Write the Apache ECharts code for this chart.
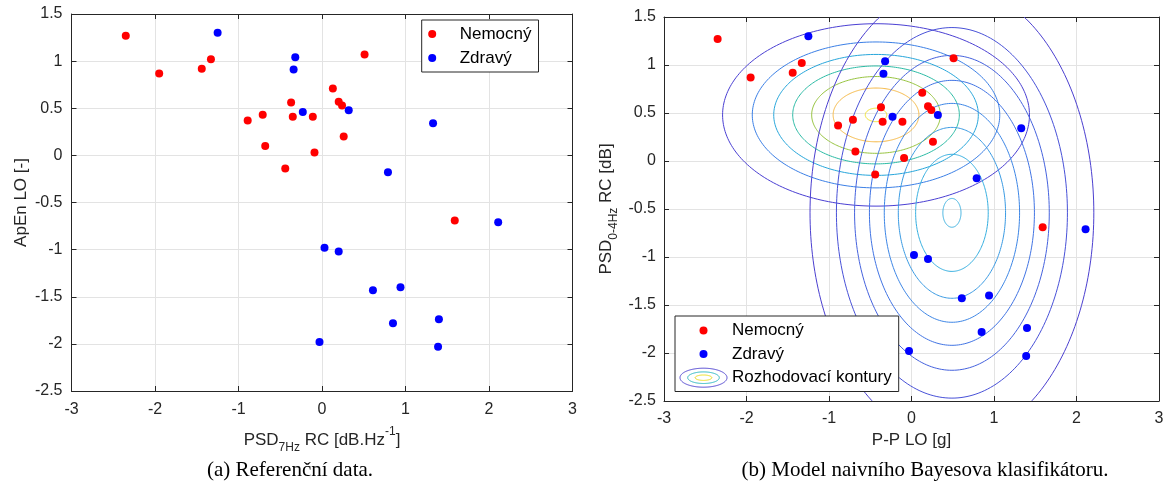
<!DOCTYPE html>
<html>
<head>
<meta charset="utf-8">
<script src="https://cdn.jsdelivr.net/npm/echarts@6/dist/echarts.min.js"></script>
<style>
  html, body { margin: 0; padding: 0; background: #fff; }
  #chart { width: 1169px; height: 496px; }
</style>
</head>
<body>
<div id="chart"></div>
<script>
// --- data ---
const nemocnyX = [-2.35, -1.95, -1.44, -1.33, -0.89, -0.71, -0.68, -0.44, -0.37, -0.35, -0.11, -0.09, 0.13, 0.20, 0.24, 0.26, 0.51, 1.59]
const nemocnyY = [1.27, 0.87, 0.92, 1.02, 0.37, 0.43, 0.10, -0.14, 0.56, 0.41, 0.41, 0.03, 0.71, 0.57, 0.53, 0.20, 1.07, -0.69]
const zdravyX = [-1.25, -0.32, -0.34, -0.23, 0.32, 1.33, 0.79, 0.03, 0.20, -0.03, 2.11, 0.61, 0.94, 0.85, 1.40, 1.39]
const zdravyY = [1.30, 1.04, 0.91, 0.46, 0.48, 0.34, -0.18, -0.98, -1.02, -1.98, -0.71, -1.43, -1.40, -1.78, -1.74, -2.03]

// contour ellipses (centre + semi-axes per level, outer -> inner)
const nemocnyCenter = [-0.43, 0.48]
const nemocnyRx = [1.86, 1.50, 1.24, 1.01, 0.78, 0.52, 0.13]
const nemocnyRy = [0.95, 0.76, 0.63, 0.51, 0.40, 0.28, 0.07]
const nemocnyColors = ['#4a3fd3', '#3b7fe6', '#27a6db', '#2bbba5', '#97c43f', '#f6b843', '#f2e21e']

const zdravyCenter = [0.49, -0.54]
const zdravyRx = [1.72, 1.40, 1.18, 1.00, 0.82, 0.65, 0.44, 0.11]
const zdravyRy = [2.37, 1.93, 1.64, 1.38, 1.14, 0.89, 0.61, 0.15]
const zdravyColors = ['#4b3fd0', '#4851d8', '#4562de', '#4174e4', '#3d86e6', '#399ae3', '#33aee0', '#33aee0']

const xTicks = [-3, 3, 1]   // min, max, interval
const yTicks = [-2.5, 1.5, 0.5]

const FONT = 'Liberation Sans'
const TXT = '#262626'

const nemocnyPts = nemocnyX.map((x, i) => [x, nemocnyY[i]])
const zdravyPts = zdravyX.map((x, i) => [x, zdravyY[i]])

function contourRows(c, rx, ry) {
  return rx.map((r, i) => [c[0], c[1], r, ry[i]])
}

function ellipsePoints(cx, cy, rx, ry) {
  const pts = []
  for (let i = 0; i <= 240; i++) {
    const t = (i / 240) * Math.PI * 2
    pts.push([cx + rx * Math.cos(t), cy + ry * Math.sin(t)])
  }
  return pts
}

function ellipseItem(colors) {
  return function (params, api) {
    const c = api.coord([api.value(0), api.value(1)])
    const s = api.size([api.value(2), api.value(3)])
    return {
      type: 'polyline',
      shape: { points: ellipsePoints(c[0], c[1], s[0], s[1]) },
      style: { stroke: colors[params.dataIndex], fill: 'none', lineWidth: 1 }
    }
  }
}

function xAxisBase(gridIndex, pos) {
  return {
    gridIndex: gridIndex,
    type: 'value',
    position: pos,
    min: xTicks[0], max: xTicks[1], interval: xTicks[2],
    axisLine: { show: true, onZero: false, lineStyle: { color: TXT, width: 1 } },
    axisTick: { show: true, inside: true, length: 5, lineStyle: { color: TXT } },
    axisLabel: { show: false },
    splitLine: { show: false }
  }
}
function yAxisBase(gridIndex, pos) {
  return {
    gridIndex: gridIndex,
    type: 'value',
    position: pos,
    min: yTicks[0], max: yTicks[1], interval: yTicks[2],
    axisLine: { show: true, onZero: false, lineStyle: { color: TXT, width: 1 } },
    axisTick: { show: true, inside: true, length: 5, lineStyle: { color: TXT } },
    axisLabel: { show: false },
    splitLine: { show: false }
  }
}

const labelStyle = { show: true, color: TXT, fontSize: 16, fontFamily: FONT }
const gridLine = { show: true, lineStyle: { color: '#e3e3e3', width: 1 } }
const richName = {
  n: { fontSize: 17, fontFamily: FONT, color: TXT, lineHeight: 28 },
  s: { fontSize: 12, fontFamily: FONT, color: TXT, lineHeight: 14, verticalAlign: 'bottom' },
  p: { fontSize: 12, fontFamily: FONT, color: TXT, lineHeight: 14, verticalAlign: 'top' }
}
const dot = (color) => ({ color: color, opacity: 1 })

const chart = echarts.init(document.getElementById('chart'))

const option = {
  backgroundColor: '#fff',
  animation: false,
  grid: [
    { left: 71.5, top: 14, width: 501, height: 377 },
    { left: 664, top: 17, width: 495, height: 384 }
  ],
  xAxis: [
    Object.assign(xAxisBase(0, 'bottom'), {
      axisLabel: Object.assign({ margin: 11 }, labelStyle),
      splitLine: gridLine,
      name: '{n|PSD}{s|7Hz}{n| RC [dB.Hz}{p|-1}{n|]}',
      nameLocation: 'middle',
      nameGap: 35,
      nameTextStyle: { rich: richName }
    }),
    xAxisBase(0, 'top'),
    Object.assign(xAxisBase(1, 'bottom'), {
      axisLabel: Object.assign({ margin: 10 }, labelStyle),
      splitLine: gridLine,
      name: 'P-P LO [g]',
      nameLocation: 'middle',
      nameGap: 29,
      nameTextStyle: { color: TXT, fontSize: 17, fontFamily: FONT }
    }),
    xAxisBase(1, 'top')
  ],
  yAxis: [
    Object.assign(yAxisBase(0, 'left'), {
      axisLabel: Object.assign({ margin: 9 }, labelStyle),
      splitLine: gridLine,
      name: 'ApEn LO [-]',
      nameLocation: 'middle',
      nameGap: 42,
      nameTextStyle: { color: TXT, fontSize: 17, fontFamily: FONT }
    }),
    yAxisBase(0, 'right'),
    Object.assign(yAxisBase(1, 'left'), {
      axisLabel: Object.assign({ margin: 8 }, labelStyle),
      splitLine: gridLine,
      name: '{n|PSD}{s|0-4Hz}{n| RC [dB]}',
      nameLocation: 'middle',
      nameGap: 44,
      nameTextStyle: { rich: richName }
    }),
    yAxisBase(1, 'right')
  ],
  legend: [
    {
      left: 421.7, top: 20,
      orient: 'vertical',
      padding: [4, 7, 4, 6.5],
      itemWidth: 45, itemHeight: 8, itemGap: 4,
      selectedMode: false,
      backgroundColor: '#fff',
      borderColor: TXT, borderWidth: 1,
      textStyle: { fontSize: 17, fontFamily: FONT, color: '#000', lineHeight: 20 },
      data: [
        { name: 'Nemocný', icon: 'circle', itemStyle: dot('#ff0000') },
        { name: 'Zdravý', icon: 'circle', itemStyle: dot('#0000ff') }
      ]
    },
    {
      left: 675, top: 316,
      orient: 'vertical',
      padding: [4.5, 7, 4, 5],
      itemWidth: 47, itemHeight: 8, itemGap: 3.5,
      selectedMode: false,
      backgroundColor: '#fff',
      borderColor: TXT, borderWidth: 1,
      textStyle: { fontSize: 17, fontFamily: FONT, color: '#000', lineHeight: 20 },
      data: [
        { name: 'Nemocný', icon: 'circle', itemStyle: dot('#ff0000') },
        { name: 'Zdravý', icon: 'circle', itemStyle: dot('#0000ff') },
        { name: 'Rozhodovací kontury', icon: 'rect', itemStyle: { opacity: 0 } }
      ]
    }
  ],
  graphic: [
    // legend icon for the contour entry
    { type: 'polyline', z: 100, shape: { points: ellipsePoints(703.5, 377.7, 23.5, 9.5) }, style: { fill: 'none', stroke: '#4b3fd0', lineWidth: 1 } },
    { type: 'polyline', z: 100, shape: { points: ellipsePoints(703.5, 377.7, 15.8, 5.8) }, style: { fill: 'none', stroke: '#22b5c0', lineWidth: 1 } },
    { type: 'polyline', z: 100, shape: { points: ellipsePoints(703.5, 377.7, 8.3, 2.7) }, style: { fill: 'none', stroke: '#eedd10', lineWidth: 1 } },
    // captions
    { type: 'text', x: 290, y: 470, style: { text: '(a) Referenční data.', textAlign: 'center', textVerticalAlign: 'middle', fontSize: 21, fontFamily: 'Liberation Serif', fill: '#000' } },
    { type: 'text', x: 925, y: 470, style: { text: '(b) Model naivního Bayesova klasifikátoru.', textAlign: 'center', textVerticalAlign: 'middle', fontSize: 21, fontFamily: 'Liberation Serif', fill: '#000' } }
  ],
  series: [
    {
      name: 'Nemocný', type: 'scatter', xAxisIndex: 0, yAxisIndex: 0,
      symbol: 'circle', symbolSize: 8, itemStyle: dot('#ff0000'), z: 5,
      data: nemocnyPts
    },
    {
      name: 'Zdravý', type: 'scatter', xAxisIndex: 0, yAxisIndex: 0,
      symbol: 'circle', symbolSize: 8, itemStyle: dot('#0000ff'), z: 5,
      data: zdravyPts
    },
    {
      name: 'Rozhodovací kontury', type: 'custom', xAxisIndex: 2, yAxisIndex: 2,
      clip: true, silent: true, z: 2,
      itemStyle: { color: '#4b3fd0' },
      renderItem: ellipseItem(nemocnyColors),
      data: contourRows(nemocnyCenter, nemocnyRx, nemocnyRy)
    },
    {
      name: 'Rozhodovací kontury', type: 'custom', xAxisIndex: 2, yAxisIndex: 2,
      clip: true, silent: true, z: 2,
      itemStyle: { color: '#4b3fd0' },
      renderItem: ellipseItem(zdravyColors),
      data: contourRows(zdravyCenter, zdravyRx, zdravyRy)
    },
    {
      name: 'Nemocný', type: 'scatter', xAxisIndex: 2, yAxisIndex: 2,
      symbol: 'circle', symbolSize: 8, itemStyle: dot('#ff0000'), z: 5,
      data: nemocnyPts
    },
    {
      name: 'Zdravý', type: 'scatter', xAxisIndex: 2, yAxisIndex: 2,
      symbol: 'circle', symbolSize: 8, itemStyle: dot('#0000ff'), z: 5,
      data: zdravyPts
    }
  ]
}

chart.setOption(option)
</script>
</body>
</html>
